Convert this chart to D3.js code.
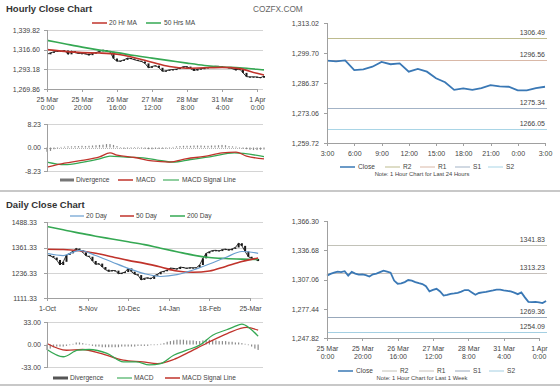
<!DOCTYPE html>
<html>
<head>
<meta charset="utf-8">
<script src="https://cdn.jsdelivr.net/npm/d3@7"></script>
<style>
body{margin:0;background:#fff;}
svg text{font-family:"Liberation Sans",Arial,sans-serif;fill:#444;}
.axis path,.axis line{stroke:#a0a0a0;shape-rendering:crispEdges;}
</style>
</head>
<body>
<svg id="chart" width="560" height="386"></svg>
<script>
/* gold close charts: hourly + daily with MACD, and pivot level charts */

//hour index = trading hours from 25 Mar 0:00, closes every 2 hours
const weekClose = [1311,1312.8,1314,1315,1314.6,1315.5,1311,1314.8,1313,1312,1312.2,1311.5,1310,1312.3,1313,1314.5,
  1316,1315,1314,1306,1302.8,1303.2,1304.4,1306.5,1306,1304.5,1303.4,1302.5,1300.2,1295,1296.5,1297.6,
  1295,1290.8,1291.5,1292.6,1293,1293.5,1294.8,1296.4,1296.4,1294,1291.6,1293.4,1294,1294.5,1295.4,1296,
  1296.8,1296.8,1296,1295.5,1295,1293.8,1292.2,1294,1289,1284.5,1284.2,1284.4,1284,1283.2,1285.3];
const maHours = [0,10,20,30,40,50,60,70,80,90,100,110,120,124];
const ma20Hr = [1316.5,1314.5,1313,1312.5,1311,1307,1301.5,1296.5,1294.5,1295,1295.5,1294,1288.5,1286.5];
const ma50Hr = [1327.5,1323.5,1319.5,1316,1313,1309.5,1306.5,1303.5,1300.5,1297.8,1296,1295,1293.3,1292.5];
const hourTicks = [0,20,40,60,80,100,120];
const hourTickDays = ["25 Mar","25 Mar","26 Mar","27 Mar","28 Mar","31 Mar","1 Apr"];
const hourTickTimes = ["0:00","20:00","16:00","12:00","8:00","4:00","0:00"];
const hourPriceTicks = [1269.86,1293.18,1316.60,1339.82];

//hourly MACD
const hMacdHours = [0,10,20,30,36,40,50,60,70,80,90,100,108,114,124];
const hMacd = [-6.9,-5.5,-4.5,-3.3,-1.9,-2.7,-3.5,-4.7,-5.1,-3.9,-3.1,-1.9,-1.6,-3.0,-4.0];
const hSignalHours = [0,10,20,30,36,45,55,63,72,82,93,107,124];
const hSignal = [-5.1,-6.0,-5.2,-4.0,-3.0,-3.4,-3.6,-4.4,-5.1,-4.2,-3.3,-1.9,-3.2];
const hDiverg = [-1.5,-1.2,-0.6,-0.3,0.2,0.3,0.4,0.4,0.5,0.5,0.6,0.5,0.6,0.7,0.8,0.9,1.0,1.2,1.2,0.9,0.5,-0.2,
  -0.4,-0.3,-0.2,0.1,0.2,-0.1,-0.4,-0.6,-0.6,-0.5,-0.5,-0.4,-0.3,0.0,0.2,0.4,0.5,0.6,0.6,0.6,0.7,0.7,0.7,
  0.6,0.6,0.7,0.7,0.8,0.9,0.8,0.5,0.4,0.3,0.0,-0.4,-0.6,-0.8,-0.9,-0.9,-0.8,-0.7];
const hMacdTicks = [-8.23,0,8.23];

//daily, trading day index from 1-Oct, closes every 2 days
const dayClose = [1325,1320,1312,1300,1275,1291,1325,1333,1344,1357,1349,1338,1321,1316,1295,1278,1282,1265,
  1252,1243,1248,1247,1232,1235,1240,1258,1242,1229,1225,1201,1209,1212,1206,1222,1229,1240,1244,1250,
  1260,1258,1255,1265,1262,1258,1262,1261,1262,1275,1308,1333,1341,1347,1348,1344,1352,1354,1348,1355,
  1362,1383,1370,1342,1316,1308,1305,1295];
const dayMaDays = [0,10,20,30,40,50,60,70,80,90,100,110,120,130];
const ma20Day = [1333,1322,1348,1322,1290,1258,1232,1218,1227,1250,1280,1312,1342,1333];
const ma50Day = [1353,1352,1346,1333,1316,1298,1283,1265,1245,1239,1245,1268,1292,1310];
const ma200Day = [1466,1450,1433,1418,1404,1390,1376,1358,1341,1324,1312,1307,1304,1302];
const dayTicks = [0,25,50,75,100,125];
const dayTickLabels = ["1-Oct","5-Nov","10-Dec","14-Jan","18-Feb","25-Mar"];
const dayPriceTicks = [1111.33,1236.33,1361.33,1488.33];

//daily MACD
const dMacdDays = [0,10,19,26,37,47,55,63,70,78,86,94,102,111,115,120,125,130];
const dMacd = [-7.3,-18,-8.4,-7.3,-13,-25.5,-25.5,-30,-28,-15.7,-8.4,-1,13.6,22,25.8,29.8,23.5,12.2];
const dSignalDays = [0,12,22,33,47,59,68,78,86,98,111,123,130];
const dSignal = [1.5,-8.4,-7.3,-13,-23,-25.5,-28,-22,-13,1.5,16,25,21];
const dDiverg = [-8,-6,-4,-3,-3,-3,-2,-1,1,3,3,2,1,-1,-2,-3,-3,-4,-4,-4,-4,-4,-4,-3,-3,-3,-3,-3,-2,-2,-2,
  -2,-1,-1,0,1,2,4,5,6,7,7,7,6,6,6,5,5,6,7,7,6,6,5,5,5,4,4,3,3,2,1,-1,-3,-6,-8];
const dMacdTicks = [-33,0,33];

//last 24 hours (31 Mar 3:00 to 1 Apr 3:00)
const close24 = [1296.3,1296.0,1296.4,1292.1,1292.4,1293.6,1295.7,1294.7,1295.1,1291.4,1292.6,1291.4,1288.5,
  1286.7,1283.3,1284.0,1283.3,1284.1,1285.4,1284.9,1284.7,1283.1,1283.1,1284.1,1284.7];
const ticks24 = [0,3,6,9,12,15,18,21,24];
const ticks24Labels = ["3:00","6:00","9:00","12:00","15:00","18:00","21:00","0:00","3:00"];
const price24Ticks = [1259.72,1273.06,1286.37,1299.70,1313.02];
const levelNames = ["R2","R1","S1","S2"];
const levels24 = [1306.49,1296.56,1275.34,1266.05];
const weekPriceTicks = [1247.82,1277.44,1307.06,1336.68,1366.30];
const levelsWeek = [1341.83,1313.23,1269.36,1254.09];

const svg = d3.select("#chart");
const gridColor = "#d4d4d4";
const red = "#c0332b", green = "#35a853", blue = "#6a9fd0", closeBlue = "#3a78b5";
const levelColors24 = ["#bdbb8e","#d9b8a7","#a3b3c6","#a9d5e6"];
const levelColorsWeek = ["#c2c2b8","#c6c0bb","#98a8bb","#a4cfe2"];

//scales
const hX = d3.scaleLinear().domain([0,120]).range([47,257]);
const hY = d3.scaleLinear().domain([1269.86,1339.82]).range([89,30]);
const hMy = d3.scaleLinear().domain([-8.23,8.23]).range([171,124]);
const dX = d3.scaleLinear().domain([0,125]).range([47,250]);
const dY = d3.scaleLinear().domain([1111.33,1488.33]).range([298,222]);
const dMy = d3.scaleLinear().domain([-33,33]).range([367,322]);
const rX = d3.scaleLinear().domain([0,24]).range([327,545]);
const rY = d3.scaleLinear().domain([1259.72,1313.02]).range([143,23]);
const wX = d3.scaleLinear().domain([0,120]).range([327,539]);
const wY = d3.scaleLinear().domain([1247.82,1366.30]).range([338,221]);

const fmtComma = d3.format(",.2f");
const fmtPlain = v => d3.format(".2f")(v).replace("\u2212","-");

// titles
svg.append("text").attr("x",6).attr("y",12).attr("font-size","9.5px").attr("font-weight","bold")
  .style("fill","#333").text("Hourly Close Chart");
svg.append("text").attr("x",6).attr("y",208).attr("font-size","9.5px").attr("font-weight","bold")
  .style("fill","#333").text("Daily Close Chart");
svg.append("text").attr("x",253).attr("y",12).attr("font-size","8.3px").style("fill","#666").text("COZFX.COM");

//separators
svg.append("line").attr("x1",0).attr("x2",560).attr("y1",191).attr("y2",191).attr("stroke","#c8c8c8").attr("stroke-width",2);
svg.append("line").attr("x1",0).attr("x2",560).attr("y1",385).attr("y2",385).attr("stroke","#c8c8c8").attr("stroke-width",2);

function grid(vals, y, x0, x1){
  svg.append("g").selectAll("line").data(vals).enter().append("line")
    .attr("x1",x0).attr("x2",x1)
    .attr("y1",d=>Math.round(y(d))+0.5).attr("y2",d=>Math.round(y(d))+0.5)
    .attr("stroke",gridColor);
}
function leftAxis(x, y, vals, fmt, pad){
  svg.append("g").attr("class","axis").attr("transform","translate("+x+",0)")
    .call(d3.axisLeft(y).tickValues(vals).tickFormat(fmt).tickSize(3).tickPadding(pad))
    .selectAll("text").attr("font-size","7px");
}
function bottomAxis(yPos, x, vals, line1, line2, dy){
  const g = svg.append("g").attr("class","axis").attr("transform","translate(0,"+yPos+")")
    .call(d3.axisBottom(x).tickValues(vals).tickSizeOuter(0).tickSize(3).tickFormat(""));
  g.selectAll(".tick").each(function(d,i){
    const t = d3.select(this).append("text").attr("text-anchor","middle").attr("font-size","7px");
    t.append("tspan").attr("x",0).attr("y",dy).text(line1[i]);
    if(line2) t.append("tspan").attr("x",0).attr("y",dy+8).text(line2[i]);
  });
  return g;
}
function candles(data, x, y, step){
  svg.append("g").selectAll("rect").data(data.slice(1)).enter().append("rect")
    .attr("x",(d,i)=>x((i+1)*step)-1)
    .attr("y",(d,i)=>Math.min(y(d),y(data[i])))
    .attr("width",2)
    .attr("height",(d,i)=>Math.max(1,Math.abs(y(d)-y(data[i]))))
    .attr("fill","#1a1a1a");
  svg.append("path").datum(data).attr("fill","none").attr("stroke","#1a1a1a").attr("stroke-width",0.9)
    .attr("d",d3.line().x((d,i)=>x(i*step)).y(d=>y(d)));
}
function seriesLine(xs, vals, x, y, color, w){
  svg.append("path").datum(vals).attr("fill","none").attr("stroke",color).attr("stroke-width",w)
    .attr("d",d3.line().x((d,i)=>x(xs[i])).y(d=>y(d)).curve(d3.curveMonotoneX));
}
function divBars(vals, step, x, y){
  svg.append("g").selectAll("rect").data(vals).enter().append("rect")
    .attr("x",(d,i)=>x(i*step)-0.6).attr("width",1.2)
    .attr("y",d=>Math.min(y(d),y(0))).attr("height",d=>Math.max(0.6,Math.abs(y(d)-y(0))))
    .attr("fill","#8a8a8a");
}
function legend(items, yPos){
  items.forEach(it=>{
    svg.append("line").attr("x1",it.x0).attr("x2",it.x1).attr("y1",yPos).attr("y2",yPos)
      .attr("stroke",it.color).attr("stroke-width",it.w||1.5);
    svg.append("text").attr("x",it.tx).attr("y",yPos+2.3).attr("font-size","6.6px").text(it.label);
  });
}

// ---- hourly price panel
grid(hourPriceTicks, hY, 47, 263);
candles(weekClose, hX, hY, 2);
seriesLine(maHours, ma50Hr, hX, hY, green, 1.6);
seriesLine(maHours, ma20Hr, hX, hY, red, 1.6);
leftAxis(47, hY, hourPriceTicks, fmtComma, 4);
bottomAxis(89, hX, hourTicks, hourTickDays, hourTickTimes, 12.5);
legend([{x0:92,x1:107,tx:109,label:"20 Hr MA",color:red},
        {x0:146,x1:161,tx:164,label:"50 Hrs MA",color:green}], 23);

// ---- hourly MACD panel
grid([8.23,-8.23], hMy, 47, 263);
svg.append("line").attr("x1",47).attr("x2",263).attr("y1",Math.round(hMy(0))+0.5).attr("y2",Math.round(hMy(0))+0.5)
  .attr("stroke","#b8b8b8").attr("stroke-dasharray","1,1");
divBars(hDiverg, 2, hX, hMy);
seriesLine(hSignalHours, hSignal, hX, hMy, green, 1.3);
seriesLine(hMacdHours, hMacd, hX, hMy, red, 1.3);
leftAxis(47, hMy, hMacdTicks, fmtPlain, 3);
legend([{x0:60,x1:74,tx:76,label:"Divergence",color:"#777",w:3},
        {x0:118,x1:133,tx:136,label:"MACD",color:red},
        {x0:163,x1:179,tx:182,label:"MACD Signal Line",color:green,w:1.1}], 180);

// ---- daily price panel
grid(dayPriceTicks, dY, 47, 263);
candles(dayClose, dX, dY, 2);
seriesLine(dayMaDays, ma200Day, dX, dY, green, 1.6);
seriesLine(dayMaDays, ma50Day, dX, dY, red, 1.6);
seriesLine(dayMaDays, ma20Day, dX, dY, blue, 1.2);
leftAxis(47, dY, dayPriceTicks, fmtPlain, 7);
bottomAxis(298, dX, dayTicks, dayTickLabels, null, 12.5);
legend([{x0:70,x1:84,tx:86,label:"20 Day",color:blue,w:1.2},
        {x0:120,x1:134,tx:136,label:"50 Day",color:red},
        {x0:170,x1:185,tx:187,label:"200 Day",color:green}], 216);

// ---- daily MACD panel
grid([33,-33], dMy, 47, 263);
divBars(dDiverg, 2, dX, dMy);
seriesLine(dSignalDays, dSignal, dX, dMy, red, 1.3);
seriesLine(dMacdDays, dMacd, dX, dMy, green, 1.3);
leftAxis(47, dMy, dMacdTicks, fmtPlain, 3);
legend([{x0:53,x1:68,tx:70,label:"Divergence",color:"#555",w:3},
        {x0:117,x1:132,tx:134,label:"MACD",color:green,w:1.1},
        {x0:165,x1:180,tx:182,label:"MACD Signal Line",color:red}], 378);

// ---- level charts (right)
function levelChart(cfg){
  cfg.levels.forEach((v,i)=>{
    svg.append("line").attr("x1",cfg.x0).attr("x2",cfg.x1)
      .attr("y1",Math.round(cfg.y(v))+0.5).attr("y2",Math.round(cfg.y(v))+0.5)
      .attr("stroke",cfg.colors[i]).attr("stroke-width",1.2);
    svg.append("text").attr("x",cfg.x1-2).attr("y",cfg.y(v)-3).attr("text-anchor","end")
      .attr("font-size","7px").text(d3.format(".2f")(v));
  });
  svg.append("path").datum(cfg.close).attr("fill","none").attr("stroke",closeBlue).attr("stroke-width",1.8)
    .attr("d",d3.line().x((d,i)=>cfg.x(i*cfg.step)).y(d=>cfg.y(d)));
  leftAxis(cfg.x0, cfg.y, cfg.yTicks, fmtComma, 5);
  bottomAxis(cfg.y.range()[0], cfg.x, cfg.xTicks, cfg.xLab1, cfg.xLab2, 12.5);
  const items = [{x0:cfg.lx[0],x1:cfg.lx[0]+15,tx:cfg.lx[0]+18,label:"Close",color:closeBlue}];
  levelNames.forEach((n,i)=>items.push({x0:cfg.lx[i+1],x1:cfg.lx[i+1]+15,tx:cfg.lx[i+1]+18,label:n,color:cfg.colors[i],w:1}));
  legend(items, cfg.legendY);
  svg.append("text").attr("x",422).attr("y",cfg.legendY+8.5).attr("text-anchor","middle")
    .attr("font-size","5.8px").text(cfg.note);
}
levelChart({x0:327,x1:547,x:rX,y:rY,step:1,close:close24,levels:levels24,colors:levelColors24,
  yTicks:price24Ticks,xTicks:ticks24,xLab1:ticks24Labels,xLab2:null,
  lx:[340,385,420,455,488],legendY:167,note:"Note: 1 Hour Chart for Last 24 Hours"});
levelChart({x0:327,x1:547,x:wX,y:wY,step:2,close:weekClose,levels:levelsWeek,colors:levelColorsWeek,
  yTicks:weekPriceTicks,xTicks:hourTicks,xLab1:hourTickDays,xLab2:hourTickTimes,
  lx:[338,382,419,455,489],legendY:371,note:"Note: 1 Hour Chart for Last 1 Week"});
</script>
</body>
</html>
